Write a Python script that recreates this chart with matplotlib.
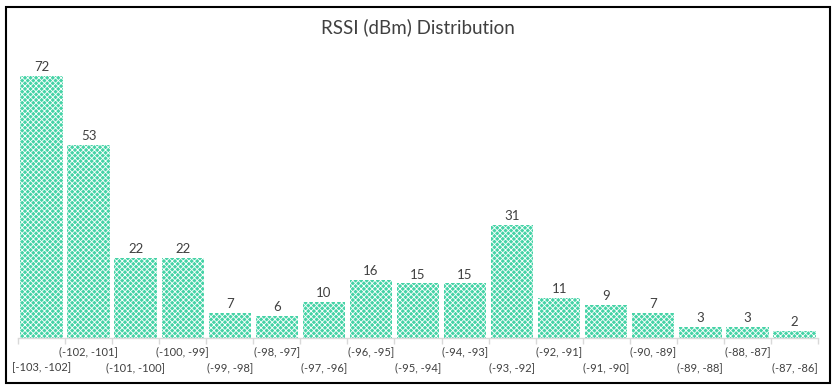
import matplotlib
matplotlib.use('Agg')
import matplotlib.pyplot as plt
import matplotlib.transforms as mtransforms
from matplotlib.patches import Rectangle

# bins and counts
bins = ['[-103, -102]', '(-102, -101]', '(-101, -100]', '(-100, -99]', '(-99, -98]',
        '(-98, -97]', '(-97, -96]', '(-96, -95]', '(-95, -94]', '(-94, -93]',
        '(-93, -92]', '(-92, -91]', '(-91, -90]', '(-90, -89]', '(-89, -88]',
        '(-88, -87]', '(-87, -86]']
counts = [72, 53, 22, 22, 7, 6, 10, 16, 15, 15, 31, 11, 9, 7, 3, 3, 2]

plt.rcParams['font.family'] = ['Lato', 'DejaVu Sans']
plt.rcParams['hatch.linewidth'] = 0.6

W, H = 835, 389
fig = plt.figure(figsize=(W / 100, H / 100), dpi=100)

# outer frame
fig.patches.append(Rectangle((6 / W, 6 / H), 824 / W, 376 / H, transform=fig.transFigure,
                             fill=False, edgecolor='black', linewidth=1.5))

ax = fig.add_axes([18 / W, 51 / H, 800 / W, 291 / H])
x = list(range(len(counts)))
bars = ax.bar(x, counts, width=0.9, color='#45d3a6', edgecolor='white',
              hatch='xxxxxx', linewidth=0)
for b, c in zip(bars, counts):
    ax.annotate(str(c), (b.get_x() + b.get_width() / 2, c), xytext=(0, 2),
                textcoords='offset points', ha='center', va='bottom',
                fontsize=9.5, color='#404040')

ax.set_xlim(-0.5, len(counts) - 0.5)
ax.set_ylim(0, 80)
ax.set_yticks([])
for s in ['top', 'left', 'right']:
    ax.spines[s].set_visible(False)
ax.spines['bottom'].set_color('#d9d9d9')
ax.spines['bottom'].set_linewidth(1)

ax.set_xticks([i - 0.5 for i in range(len(counts) + 1)])
ax.set_xticklabels([])
ax.tick_params(axis='x', length=4, color='#d9d9d9', width=1)

trans = mtransforms.blended_transform_factory(ax.transData, ax.transAxes)
for i, lab in enumerate(bins):
    yy = -0.048 if i % 2 else -0.103
    ax.text(i, yy, lab, transform=trans, ha='center', va='center',
            fontsize=8, color='#404040')

fig.text(0.5, 1 - 27 / H, 'RSSI (dBm) Distribution', ha='center', va='center',
         fontsize=13.5, color='#404040')

fig.savefig('out.png', dpi=100)
